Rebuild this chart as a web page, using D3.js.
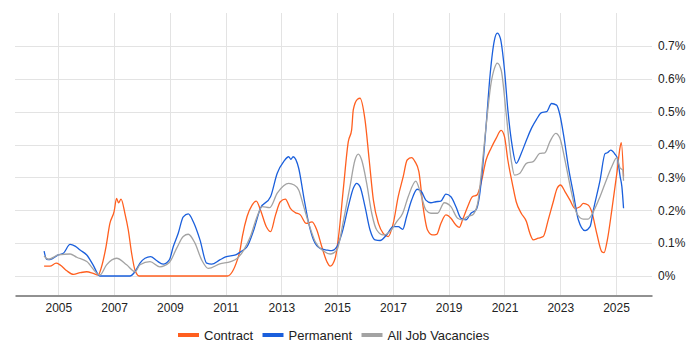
<!DOCTYPE html>
<html>
<head>
<meta charset="utf-8">
<script src="https://cdnjs.cloudflare.com/ajax/libs/d3/7.8.5/d3.min.js"></script>
<style>
	body { margin: 0; background: #fff; }
	svg text { font-family: "Liberation Sans", Arial, sans-serif; fill: #222; }
</style>
</head>
<body>
<div id="chart-div"></div>
<script>
// [decimal year, % of vacancies]
var contract = [
	[2004.49,0.030],[2004.70,0.030],[2004.92,0.039],[2005.06,0.034],[2005.30,0.016],[2005.54,0.005],
	[2005.78,0.010],[2006.02,0.013],[2006.25,0.008],[2006.43,0.003],[2006.55,0.028],[2006.71,0.089],
	[2006.85,0.160],[2007.00,0.196],[2007.09,0.236],[2007.16,0.223],[2007.25,0.234],[2007.39,0.190],
	[2007.51,0.140],[2007.63,0.069],[2007.75,0.018],[2007.90,0.000],[2011.06,0.000],[2011.24,0.013],
	[2011.42,0.049],[2011.51,0.075],[2011.60,0.120],[2011.77,0.181],[2011.95,0.216],[2012.10,0.228],
	[2012.25,0.201],[2012.46,0.150],[2012.61,0.135],[2012.79,0.186],[2012.96,0.226],[2013.14,0.234],
	[2013.32,0.206],[2013.50,0.193],[2013.68,0.186],[2013.89,0.160],[2014.10,0.165],[2014.27,0.140],
	[2014.45,0.089],[2014.63,0.044],[2014.75,0.030],[2014.93,0.054],[2015.05,0.120],[2015.23,0.272],
	[2015.40,0.409],[2015.52,0.445],[2015.58,0.506],[2015.73,0.538],[2015.82,0.541],[2016.00,0.475],
	[2016.15,0.353],[2016.30,0.231],[2016.48,0.160],[2016.65,0.130],[2016.83,0.120],[2017.01,0.160],
	[2017.19,0.242],[2017.37,0.303],[2017.51,0.353],[2017.67,0.360],[2017.79,0.348],[2017.93,0.318],
	[2018.08,0.211],[2018.24,0.140],[2018.42,0.125],[2018.57,0.127],[2018.72,0.160],[2018.90,0.186],
	[2019.08,0.176],[2019.26,0.155],[2019.38,0.148],[2019.50,0.171],[2019.68,0.211],[2019.86,0.242],
	[2020.01,0.246],[2020.16,0.282],[2020.34,0.353],[2020.52,0.389],[2020.70,0.419],[2020.88,0.443],
	[2021.00,0.424],[2021.12,0.353],[2021.28,0.282],[2021.42,0.226],[2021.60,0.191],[2021.79,0.165],
	[2021.91,0.130],[2022.03,0.110],[2022.21,0.115],[2022.39,0.120],[2022.57,0.171],[2022.75,0.226],
	[2022.89,0.267],[2023.01,0.277],[2023.17,0.257],[2023.35,0.231],[2023.53,0.206],[2023.71,0.211],
	[2023.83,0.221],[2024.00,0.216],[2024.13,0.196],[2024.31,0.130],[2024.49,0.074],[2024.57,0.071],
	[2024.69,0.110],[2024.85,0.201],[2025.03,0.313],[2025.15,0.394],[2025.19,0.406],[2025.27,0.303]
];
var permanent = [
	[2004.49,0.076],[2004.58,0.051],[2004.70,0.050],[2005.00,0.064],[2005.18,0.069],[2005.42,0.096],
	[2005.60,0.091],[2005.78,0.079],[2006.02,0.064],[2006.25,0.033],[2006.49,0.000],[2007.57,0.000],
	[2007.75,0.013],[2007.93,0.039],[2008.11,0.054],[2008.31,0.059],[2008.52,0.047],[2008.76,0.036],
	[2008.98,0.049],[2009.12,0.089],[2009.30,0.130],[2009.48,0.180],[2009.66,0.189],[2009.84,0.165],
	[2010.08,0.110],[2010.32,0.039],[2010.50,0.036],[2010.79,0.049],[2011.00,0.058],[2011.36,0.064],
	[2011.54,0.074],[2011.77,0.089],[2012.01,0.140],[2012.25,0.206],[2012.61,0.241],[2012.85,0.313],
	[2013.08,0.348],[2013.26,0.363],[2013.34,0.355],[2013.42,0.363],[2013.62,0.328],[2013.80,0.241],
	[2013.98,0.160],[2014.15,0.110],[2014.39,0.084],[2014.63,0.079],[2014.81,0.077],[2014.99,0.089],
	[2015.17,0.130],[2015.40,0.211],[2015.58,0.267],[2015.70,0.282],[2015.82,0.272],[2016.00,0.211],
	[2016.18,0.140],[2016.36,0.110],[2016.54,0.108],[2016.77,0.125],[2017.01,0.150],[2017.19,0.150],
	[2017.35,0.142],[2017.49,0.181],[2017.67,0.231],[2017.87,0.264],[2018.02,0.257],[2018.18,0.231],
	[2018.36,0.223],[2018.54,0.226],[2018.72,0.228],[2018.90,0.249],[2019.08,0.241],[2019.26,0.211],
	[2019.44,0.176],[2019.62,0.171],[2019.80,0.191],[2019.98,0.201],[2020.10,0.241],[2020.22,0.333],
	[2020.34,0.455],[2020.49,0.617],[2020.64,0.718],[2020.74,0.739],[2020.85,0.724],[2021.00,0.627],
	[2021.12,0.506],[2021.28,0.394],[2021.42,0.343],[2021.60,0.373],[2021.79,0.414],[2021.97,0.450],
	[2022.15,0.477],[2022.33,0.497],[2022.51,0.500],[2022.69,0.525],[2022.87,0.520],[2022.99,0.490],
	[2023.13,0.424],[2023.29,0.333],[2023.47,0.252],[2023.65,0.171],[2023.89,0.138],[2024.07,0.150],
	[2024.19,0.201],[2024.43,0.292],[2024.61,0.373],[2024.69,0.375],[2024.81,0.383],[2024.96,0.371],
	[2025.05,0.358],[2025.15,0.302],[2025.21,0.272],[2025.27,0.206]
];
var allJobs = [
	[2004.49,0.061],[2004.64,0.051],[2005.00,0.064],[2005.42,0.067],[2005.66,0.057],[2006.02,0.044],
	[2006.49,0.003],[2006.73,0.034],[2007.09,0.054],[2007.45,0.034],[2007.75,0.013],[2007.93,0.034],
	[2008.29,0.044],[2008.64,0.028],[2008.98,0.041],[2009.24,0.084],[2009.48,0.120],[2009.66,0.127],
	[2009.90,0.100],[2010.14,0.049],[2010.38,0.023],[2010.79,0.037],[2011.18,0.044],[2011.42,0.054],
	[2011.65,0.079],[2011.89,0.120],[2012.13,0.181],[2012.31,0.211],[2012.58,0.208],[2012.85,0.252],
	[2013.08,0.275],[2013.26,0.282],[2013.46,0.277],[2013.62,0.262],[2013.80,0.211],[2013.98,0.160],
	[2014.21,0.105],[2014.51,0.076],[2014.75,0.067],[2014.99,0.079],[2015.23,0.170],[2015.46,0.272],
	[2015.64,0.353],[2015.76,0.371],[2015.88,0.353],[2016.06,0.282],[2016.24,0.191],[2016.42,0.140],
	[2016.65,0.125],[2016.89,0.135],[2017.13,0.165],[2017.35,0.191],[2017.55,0.242],[2017.82,0.289],
	[2017.98,0.255],[2018.18,0.201],[2018.36,0.191],[2018.60,0.191],[2018.84,0.223],[2019.08,0.211],
	[2019.32,0.176],[2019.50,0.171],[2019.68,0.181],[2019.86,0.186],[2020.04,0.221],[2020.16,0.303],
	[2020.34,0.455],[2020.52,0.587],[2020.64,0.632],[2020.74,0.648],[2020.88,0.627],[2021.06,0.495],
	[2021.24,0.353],[2021.36,0.307],[2021.54,0.312],[2021.79,0.343],[2022.03,0.348],[2022.27,0.373],
	[2022.45,0.375],[2022.63,0.409],[2022.84,0.434],[2022.99,0.419],[2023.17,0.353],[2023.41,0.252],
	[2023.59,0.191],[2023.83,0.173],[2024.00,0.173],[2024.19,0.196],[2024.43,0.242],[2024.61,0.282],
	[2024.85,0.333],[2025.03,0.360],[2025.15,0.328],[2025.24,0.323],[2025.27,0.290]
];
var seriesNames = ["Contract", "Permanent", "All Job Vacancies"];
var tickYears = [2005, 2007, 2009, 2011, 2013, 2015, 2017, 2019, 2021, 2023, 2025];
var yTicks = [0, 0.1, 0.2, 0.3, 0.4, 0.5, 0.6, 0.7];

var width = 700, height = 350;
var colorArr = {"Contract": "#ff5f1f", "Permanent": "#1a5fdc", "All Job Vacancies": "#a3a3a3"};
var padding = {left: 15, right: 48, top: 13, bottom: 55};

function yearToDate(y) {
	var yr = Math.floor(y);
	var start = Date.UTC(yr, 0, 1), end = Date.UTC(yr + 1, 0, 1);
	return new Date(start + (y - yr) * (end - start));
}

var svg = d3.select("#chart-div").append("svg")
	.attr("width", width)
	.attr("height", height);

var x_scale = d3.scaleUtc()
	.domain([yearToDate(2003.447), yearToDate(2026.291)])
	.range([padding.left, width - padding.right]);
var y_scale = d3.scaleLinear()
	.domain([0, 0.7])
	.range([276, 46]);

var plotBottom = height - padding.bottom + 0; // 295

// grid
var grid = svg.append("g").attr("class", "grid");
grid.selectAll("line.h").data(yTicks).enter().append("line")
	.attr("x1", padding.left).attr("x2", width - padding.right)
	.attr("y1", function(d) { return Math.round(y_scale(d)) + 0.5; })
	.attr("y2", function(d) { return Math.round(y_scale(d)) + 0.5; })
	.attr("stroke", "#e3e3e3").attr("stroke-width", 1);
grid.selectAll("line.v").data(tickYears).enter().append("line")
	.attr("x1", function(d) { return Math.round(x_scale(yearToDate(d))) + 0.5; })
	.attr("x2", function(d) { return Math.round(x_scale(yearToDate(d))) + 0.5; })
	.attr("y1", padding.top).attr("y2", plotBottom)
	.attr("stroke", "#e3e3e3").attr("stroke-width", 1);

// x axis
var x_axis = d3.axisBottom(x_scale)
	.tickValues(tickYears.map(yearToDate))
	.tickFormat(d3.utcFormat("%Y"))
	.tickSize(0).tickPadding(8);
var xg = svg.append("g")
	.attr("transform", "translate(0," + plotBottom + ".5)")
	.call(x_axis);
xg.select(".domain").attr("stroke", "#222");
xg.selectAll("text").style("font-size", "12px");

// y axis on the right
var y_axis = d3.axisRight(y_scale)
	.tickValues(yTicks)
	.tickFormat(function(d) { return d === 0 ? "0%" : d.toFixed(1) + "%"; })
	.tickSize(0).tickPadding(6);
var yg = svg.append("g")
	.attr("transform", "translate(" + (width - padding.right) + ",0)")
	.call(y_axis);
yg.select(".domain").remove();
yg.selectAll("text").style("font-size", "12px");

// lines
var lineCurve = d3.line()
	.curve(d3.curveMonotoneX)
	.x(function(d) { return x_scale(yearToDate(d[0])); })
	.y(function(d) { return y_scale(d[1]); });

var allSeries = [contract, permanent, allJobs];
svg.append("g").attr("class", "lineg")
	.selectAll("path")
	.data(allSeries)
	.enter().append("path")
	.attr("d", function(d) { return lineCurve(d); })
	.style("stroke", function(d, i) { return colorArr[seriesNames[i]]; })
	.style("stroke-width", "1.3px")
	.style("fill", "none");

// legend
var legendX = [178, 262.5, 361.5];
var legend = svg.append("g").attr("class", "legend")
	.selectAll("g")
	.data(seriesNames)
	.enter().append("g")
	.attr("transform", function(d, i) { return "translate(" + legendX[i] + ",335)"; });
legend.append("line")
	.attr("x1", 0).attr("x2", 21).attr("y1", 0).attr("y2", 0)
	.attr("stroke", function(d) { return colorArr[d]; })
	.attr("stroke-width", 4);
legend.append("text")
	.attr("x", 26).attr("y", 4.5)
	.style("font-size", "13px")
	.text(function(d) { return d; });
</script>
</body>
</html>
